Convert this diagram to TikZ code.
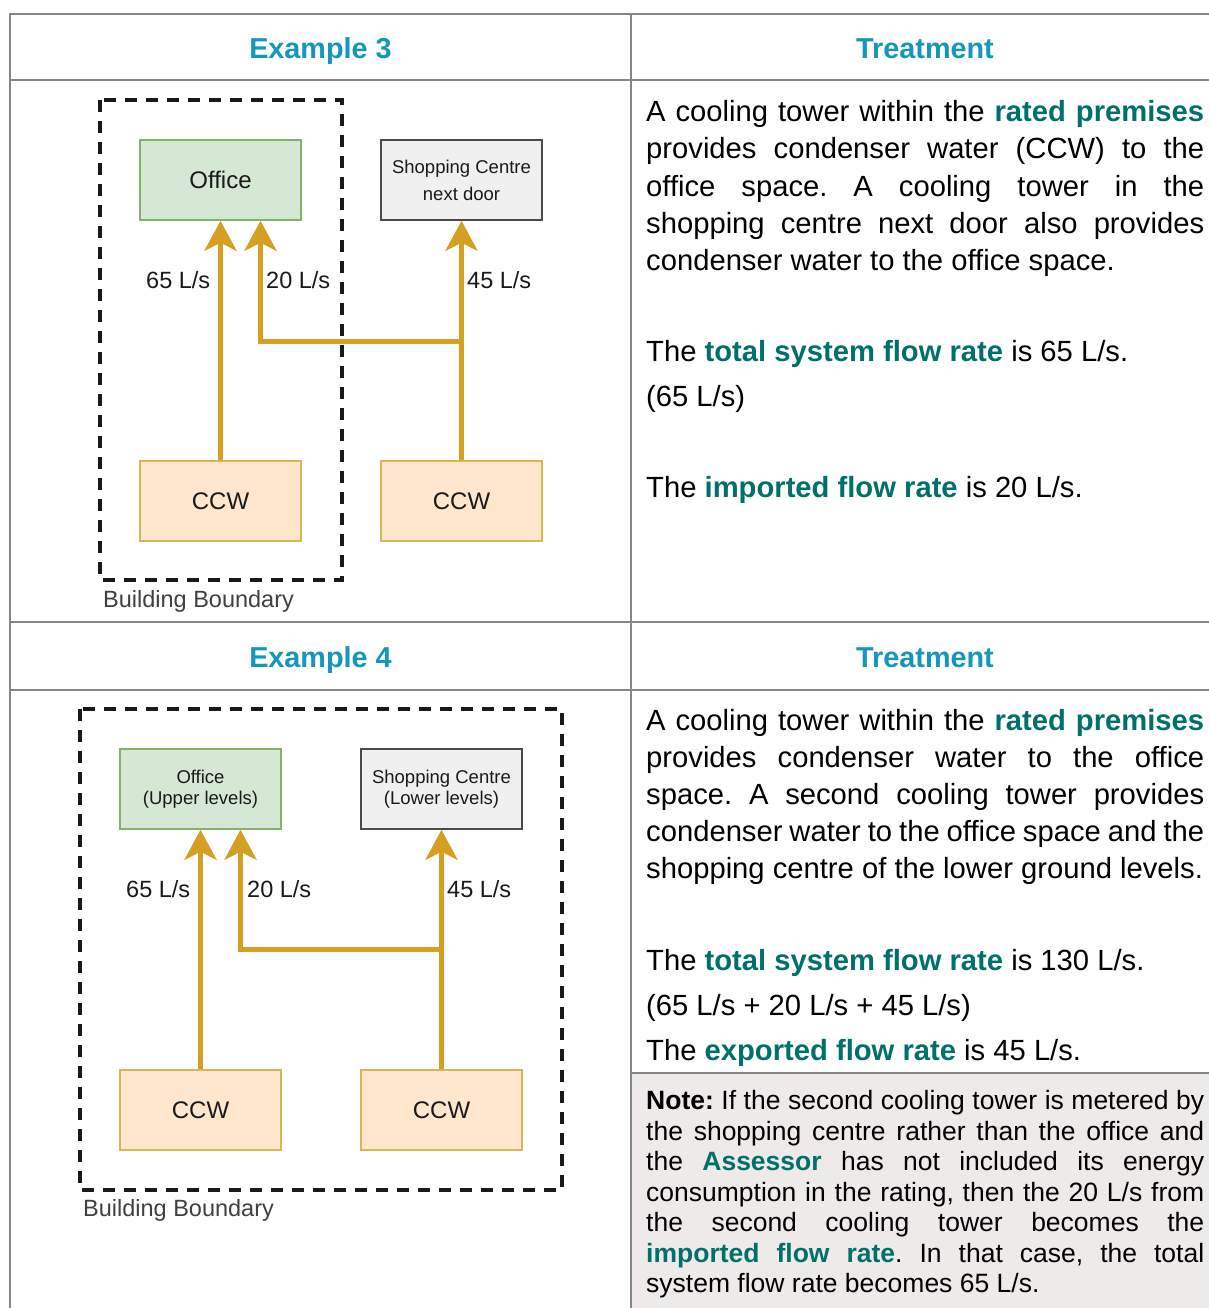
\documentclass[tikz,border=0pt]{standalone}
\usepackage{fontspec}
\setmainfont{Liberation Sans}
\usetikzlibrary{arrows.meta}
\frenchspacing
\definecolor{hdrblue}{HTML}{1497B9}
\definecolor{termteal}{HTML}{00706B}
\definecolor{gridgray}{HTML}{858585}
\definecolor{notebg}{HTML}{EDEAE9}
\definecolor{flowgold}{HTML}{D5A021}
\definecolor{ccwfill}{HTML}{FFE6CC}
\definecolor{ccwline}{HTML}{D6B656}
\definecolor{offfill}{HTML}{D5E8D4}
\definecolor{offline}{HTML}{82B366}
\definecolor{shopfill}{HTML}{F0F0F0}
\definecolor{shopline}{HTML}{4A4A4A}
\definecolor{diagtext}{HTML}{1A1A1A}
\definecolor{bbtext}{HTML}{404040}
\newcommand{\term}[1]{\textbf{\color{termteal}#1}}
\newcommand{\jline}[1]{\makebox[558pt][s]{#1}}
\begin{document}
\frenchspacing
\begin{tikzpicture}[x=1pt,y=-1pt,
  gridline/.style={draw=gridgray, line width=2pt},
  boundary/.style={draw=black!90, line width=4pt, dash pattern=on 12pt off 9pt},
  basebox/.style={line width=1.5pt, minimum width=161pt, minimum height=80pt, inner sep=0pt, text=diagtext, align=center},
  officebox/.style={basebox, draw=offline, fill=offfill},
  shopbox/.style={basebox, draw=shopline, fill=shopfill},
  ccwbox/.style={basebox, draw=ccwline, fill=ccwfill, font=\fontsize{24}{28}\selectfont},
  flow/.style={draw=flowgold, line width=5pt, -{Stealth[length=30pt,width=32pt,inset=8pt]}},
  rate/.style={anchor=west, inner sep=0pt, font=\fontsize{23.5}{28}\selectfont, text=diagtext},
  bblabel/.style={anchor=west, inner sep=0pt, font=\fontsize{23.5}{28}\selectfont, text=bbtext},
  hdr/.style={anchor=base, inner sep=0pt, font=\fontsize{28.8}{34}\selectfont\bfseries, text=hdrblue},
  bodyline/.style={anchor=base west, inner sep=0pt, font=\fontsize{29.2}{37}\selectfont\frenchspacing, text=black},
  noteline/.style={anchor=base west, inner sep=0pt, font=\fontsize{26.5}{30.5}\selectfont\frenchspacing, text=black}
]
\useasboundingbox (0,0) rectangle (1209,1308);
\fill[white] (0,0) rectangle (1209,1308);

% note background
\fill[notebg] (631,1073) rectangle (1209,1308);

% table grid
\draw[gridline] (9,14) -- (1209,14);
\draw[gridline] (9,80) -- (1209,80);
\draw[gridline] (9,622) -- (1209,622);
\draw[gridline] (9,690) -- (1209,690);
\draw[gridline] (631,1073) -- (1209,1073);
\draw[gridline] (10,13) -- (10,1308);
\draw[gridline] (631,13) -- (631,1308);

% headers
\node[hdr] (h3l) at (320.5,58.5) {Example 3};
\node[hdr] (h3r) at (925,58.5) {Treatment};
\node[hdr] (h4l) at (320.5,667.5) {Example 4};
\node[hdr] (h4r) at (925,667.5) {Treatment};

% ---------- Example 3 diagram ----------
\draw[boundary] (100,100) rectangle (342,580);
\node[bblabel] (bb3) at (103,601) {Building Boundary};
\node[officebox, font=\fontsize{24}{28}\selectfont] (off3) at (220.5,180) {Office};
\node[shopbox, font=\fontsize{18.5}{27}\selectfont] (shop3) at (461.5,180) {Shopping Centre\\next door};
\node[ccwbox] (ccwa3) at (220.5,501) {CCW};
\node[ccwbox] (ccwb3) at (461.5,501) {CCW};
\coordinate (j3) at (461.5,341);
\draw[flow] (ccwa3.north) -- (off3.south);
\draw[flow] (ccwb3.north) -- (shop3.south);
\draw[flow] (j3) -| ([xshift=40pt]off3.south);
\node[rate] (r3a) at (146,280) {65 L/s};
\node[rate] (r3b) at (266,280) {20 L/s};
\node[rate] (r3c) at (467,280) {45 L/s};

% ---------- Example 4 diagram ----------
\draw[boundary] (80,709) rectangle (562,1190);
\node[bblabel] (bb4) at (83,1210) {Building Boundary};
\node[officebox, font=\fontsize{18.5}{21}\selectfont] (off4) at (200.5,789) {Office\\(Upper levels)};
\node[shopbox, font=\fontsize{18.5}{21}\selectfont] (shop4) at (441.5,789) {Shopping Centre\\(Lower levels)};
\node[ccwbox] (ccwa4) at (200.5,1110) {CCW};
\node[ccwbox] (ccwb4) at (441.5,1110) {CCW};
\coordinate (j4) at (441.5,949);
\draw[flow] (ccwa4.north) -- (off4.south);
\draw[flow] (ccwb4.north) -- (shop4.south);
\draw[flow] (j4) -| ([xshift=40pt]off4.south);
\node[rate] (r4a) at (126,889) {65 L/s};
\node[rate] (r4b) at (247,889) {20 L/s};
\node[rate] (r4c) at (447,889) {45 L/s};

% ---------- Example 3 treatment ----------
\node[bodyline] (t3a) at (646,121.5) {\jline{A cooling tower within the \term{rated premises}}};
\node[bodyline] (t3b) at (646,159) {\jline{provides condenser water (CCW) to the}};
\node[bodyline] (t3c) at (646,196.5) {\jline{office space. A cooling tower in the}};
\node[bodyline] (t3d) at (646,233.5) {\jline{shopping centre next door also provides}};
\node[bodyline] (t3e) at (646,270.5) {condenser water to the office space.};
\node[bodyline] (t3f) at (646,361.5) {The \term{total system flow rate} is 65 L/s.};
\node[bodyline] (t3g) at (646,406.5) {(65 L/s)};
\node[bodyline] (t3h) at (646,497.5) {The \term{imported flow rate} is 20 L/s.};

% ---------- Example 4 treatment ----------
\node[bodyline] (t4a) at (646,730) {\jline{A cooling tower within the \term{rated premises}}};
\node[bodyline] (t4b) at (646,767.5) {\jline{provides condenser water to the office}};
\node[bodyline] (t4c) at (646,804.5) {\jline{space. A second cooling tower provides}};
\node[bodyline] (t4d) at (646,841.5) {\jline{condenser water to the office space and the}};
\node[bodyline] (t4e) at (646,878.5) {shopping centre of the lower ground levels.};
\node[bodyline] (t4f) at (646,970.5) {The \term{total system flow rate} is 130 L/s.};
\node[bodyline] (t4g) at (646,1015.5) {(65 L/s + 20 L/s + 45 L/s)};
\node[bodyline] (t4h) at (646,1060.5) {The \term{exported flow rate} is 45 L/s.};

% ---------- Note ----------
\node[noteline] (n1) at (646,1109.5) {\jline{\textbf{Note:} If the second cooling tower is metered by}};
\node[noteline] (n2) at (646,1140) {\jline{the shopping centre rather than the office and}};
\node[noteline] (n3) at (646,1170.5) {\jline{the \term{Assessor} has not included its energy}};
\node[noteline] (n4) at (646,1201) {\jline{consumption in the rating, then the 20 L/s from}};
\node[noteline] (n5) at (646,1231.5) {\jline{the second cooling tower becomes the}};
\node[noteline] (n6) at (646,1262) {\jline{\term{imported flow rate}. In that case, the total}};
\node[noteline] (n7) at (646,1292.5) {system flow rate becomes 65 L/s.};
\end{tikzpicture}
\end{document}
